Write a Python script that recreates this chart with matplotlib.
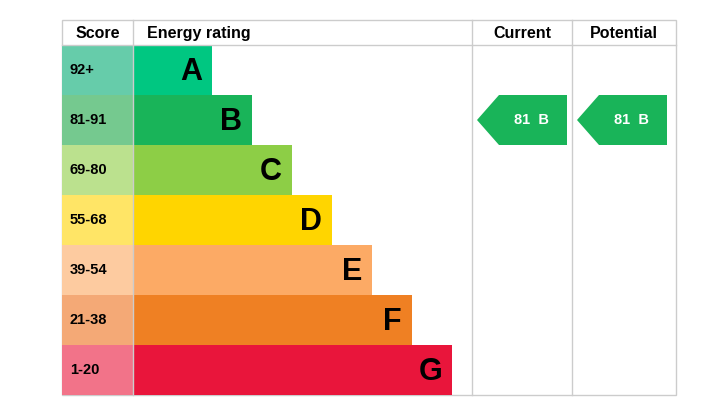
import matplotlib
matplotlib.use("Agg")
import matplotlib.pyplot as plt
from matplotlib.patches import Rectangle, Polygon

plt.rcParams['font.family'] = ['Liberation Sans', 'DejaVu Sans']

bands = ["A", "B", "C", "D", "E", "F", "G"]
score_labels = ["92+", "81-91", "69-80", "55-68", "39-54", "21-38", "1-20"]
bar_colors = ["#00c781", "#19b459", "#8dce46", "#ffd500", "#fcaa65", "#ef8023", "#e9153b"]
score_colors = ["#66ccaa", "#75c98f", "#bbe18e", "#ffe566", "#fdcba0", "#f4a976", "#f27389"]
current = (81, "B")
potential = (81, "B")

fig = plt.figure(figsize=(7.18, 4.04), dpi=100)
ax = fig.add_axes([0, 0, 1, 1])
ax.set_xlim(0, 718)
ax.set_ylim(404, 0)
ax.axis("off")

left, score_w, bar_x = 62, 71, 133
top, head_h, row_h = 20, 25, 50
cur_x, pot_x, right = 472, 572, 676
bottom = top + head_h + row_h * len(bands)
grid = "#cccccc"

# outer frame and header
ax.add_patch(Rectangle((left, top), right - left, bottom - top, fill=False, ec=grid, lw=1))
ax.plot([left, right], [top + head_h] * 2, color=grid, lw=1)
for x in (bar_x, cur_x, pot_x):
    ax.plot([x, x], [top, bottom], color=grid, lw=1)
hy = top + head_h / 2 + 1
ax.text(left + score_w / 2, hy, "Score", ha="center", va="center", fontsize=11.5, fontweight="bold")
ax.text(bar_x + 14, hy, "Energy rating", ha="left", va="center", fontsize=11.5, fontweight="bold")
ax.text((cur_x + pot_x) / 2, hy, "Current", ha="center", va="center", fontsize=11.5, fontweight="bold")
ax.text((pot_x + right) / 2, hy, "Potential", ha="center", va="center", fontsize=11.5, fontweight="bold")

for i, (b, s) in enumerate(zip(bands, score_labels)):
    y = top + head_h + i * row_h
    ax.add_patch(Rectangle((left, y), score_w, row_h, color=score_colors[i], lw=0))
    ax.text(left + 8, y + row_h / 2, s, ha="left", va="center", fontsize=10.5, fontweight="bold")
    w = 79 + 40 * i
    ax.add_patch(Rectangle((bar_x, y), w, row_h, color=bar_colors[i], lw=0))
    ax.text(bar_x + w - 10, y + row_h / 2 + 2, b, ha="right", va="center", fontsize=22, fontweight="bold")


def arrow(x0, value, band):
    i = bands.index(band)
    y = top + head_h + i * row_h
    pts = [(x0 + 5, y + row_h / 2), (x0 + 27, y), (x0 + 95, y),
           (x0 + 95, y + row_h), (x0 + 27, y + row_h)]
    ax.add_patch(Polygon(pts, closed=True, color=bar_colors[i], lw=0))
    ax.text(x0 + 59, y + row_h / 2, f"{value}  {band}", ha="center", va="center",
            fontsize=10.5, fontweight="bold", color="white")


arrow(cur_x, *current)
arrow(pot_x, *potential)

fig.savefig("out.png", dpi=100)
